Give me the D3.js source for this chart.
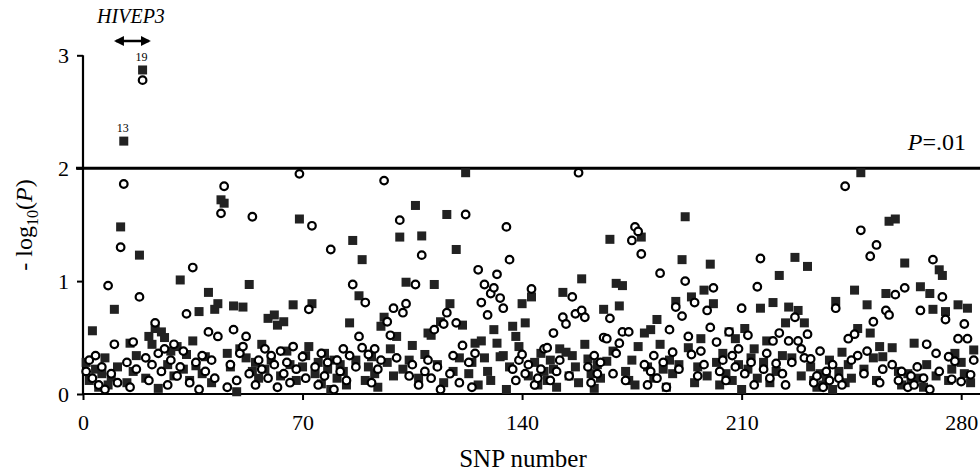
<!DOCTYPE html>
<html>
<head>
<meta charset="utf-8">
<script src="https://cdn.jsdelivr.net/npm/d3@7"></script>
<style>
  body { margin: 0; background: #fff; }
</style>
</head>
<body>
<svg id="chart" width="980" height="474" style="font-family: 'Liberation Serif', 'Times New Roman', serif;"></svg>
<script>
// -log10(P) per SNP, filled squares and open circles (SNP 1..284)
var squareVals = [
  0.28,0.12,0.56,0.22,0.06,0.18,0.32,0.08,0.15,0.75,
  0.24,1.48,2.24,0.10,0.45,0.20,0.34,1.23,2.87,0.14,
  0.51,0.44,0.58,0.05,0.55,0.50,0.26,0.38,0.16,0.42,
  1.01,0.22,0.35,0.12,0.47,0.25,0.73,0.18,0.33,0.90,
  0.10,0.75,0.80,1.72,1.69,0.36,0.24,0.78,0.02,0.40,
  0.77,0.32,0.97,0.20,0.28,0.14,0.44,0.22,0.67,0.30,
  0.70,0.61,0.16,0.64,0.38,0.26,0.79,0.12,1.55,0.24,
  0.34,0.42,0.80,0.18,0.28,0.09,0.36,0.22,0.04,0.30,
  0.14,0.26,0.20,0.08,0.63,1.36,0.30,0.87,1.19,0.12,
  0.24,0.33,0.18,0.06,0.60,0.68,0.28,0.40,0.16,0.51,
  1.39,0.22,0.99,0.30,0.43,1.67,0.14,1.40,0.35,0.54,
  0.52,0.97,0.26,0.64,0.10,1.59,0.80,0.20,1.28,0.32,
  0.61,1.96,0.18,0.28,0.45,0.08,0.47,0.32,0.20,0.12,
  0.57,0.45,0.33,0.34,0.04,0.24,0.60,0.51,0.42,0.80,
  0.63,0.16,0.86,0.28,0.08,0.36,0.20,0.12,0.30,0.22,
  0.06,0.40,0.90,0.37,0.16,0.34,0.24,0.10,1.02,0.44,
  0.31,0.18,0.05,0.26,0.14,0.75,0.29,1.37,0.38,0.98,
  0.78,0.96,0.20,0.12,0.30,0.08,0.42,1.39,0.54,0.24,
  0.57,0.14,0.66,0.44,0.22,0.06,0.30,0.18,0.82,0.26,
  1.19,1.57,0.41,0.86,0.10,0.24,0.49,0.92,0.16,1.15,
  0.80,0.28,0.08,0.36,0.18,0.55,0.12,0.49,0.26,0.04,
  0.58,0.22,0.32,0.40,0.14,0.76,0.28,0.47,0.10,0.81,
  0.20,1.05,0.34,0.63,0.77,0.32,1.21,0.74,0.16,0.63,
  1.13,0.24,0.12,0.06,0.18,0.08,0.14,0.30,0.04,0.82,
  0.20,0.37,0.10,0.26,0.14,0.92,0.58,1.96,0.22,0.79,
  0.54,0.32,0.12,0.42,0.33,0.89,1.53,0.41,1.55,0.20,
  0.08,1.16,0.18,0.10,0.45,0.14,0.95,0.06,0.26,0.89,
  0.75,0.16,1.10,1.05,0.73,0.12,0.22,0.36,0.79,0.28,
  0.18,0.76,0.10,0.39
];
var circleVals = [
  0.20,0.30,0.14,0.34,0.08,0.24,0.04,0.96,0.18,0.44,
  0.10,1.30,1.86,0.28,0.06,0.46,0.22,0.86,2.78,0.32,
  0.12,0.26,0.63,0.36,0.20,0.40,0.08,0.30,0.44,0.16,
  0.24,0.38,0.71,0.10,1.12,0.28,0.04,0.34,0.20,0.55,
  0.30,0.14,0.51,1.60,1.84,0.06,0.26,0.57,0.12,0.36,
  0.42,0.51,0.18,1.57,0.08,0.30,0.22,0.40,0.14,0.34,
  0.26,0.06,0.38,0.18,0.28,0.10,0.42,0.22,1.95,0.33,
  0.14,0.75,1.49,0.24,0.08,0.36,0.16,0.28,1.28,0.04,
  0.30,0.20,0.40,0.12,0.34,0.97,0.24,0.51,0.41,0.81,
  0.35,0.10,0.40,0.22,0.30,1.89,0.64,0.52,0.76,0.32,
  1.54,0.72,0.80,0.16,0.26,0.97,0.08,1.23,0.20,0.30,
  0.14,0.57,0.24,0.04,0.62,0.72,0.18,0.34,0.63,0.10,
  0.43,1.59,0.28,0.06,0.36,1.10,0.81,0.97,0.70,0.89,
  0.94,1.06,0.85,0.76,1.48,1.19,0.22,0.12,0.30,0.35,
  0.18,0.26,0.93,0.08,0.14,0.22,0.40,0.41,0.12,0.54,
  0.20,0.30,0.68,0.62,0.16,0.86,0.71,1.96,0.74,0.68,
  0.24,0.10,0.34,0.18,0.28,0.50,0.49,0.67,0.18,0.36,
  0.45,0.55,0.12,0.55,1.36,1.48,1.44,1.24,0.26,0.08,
  0.20,0.34,0.14,1.07,0.28,0.06,0.57,0.37,0.77,0.22,
  0.69,1.00,0.51,0.35,0.81,0.16,0.38,0.26,0.74,0.59,
  0.94,0.46,0.20,0.30,0.12,0.55,0.34,0.24,0.40,0.76,
  0.18,0.52,0.28,0.08,0.95,1.20,0.22,0.36,0.14,0.47,
  0.27,0.54,0.18,0.08,0.47,0.28,0.68,0.47,0.40,0.32,
  0.53,0.31,0.10,0.16,0.38,0.06,0.20,0.12,0.26,0.76,
  0.14,0.08,1.84,0.49,0.30,0.53,0.34,1.45,0.18,0.38,
  1.22,0.64,1.32,0.10,0.22,0.74,0.70,0.26,0.88,0.12,
  0.20,0.94,0.06,0.16,0.08,0.24,0.74,0.14,0.44,0.04,
  1.19,0.36,0.20,0.86,0.66,0.33,0.13,0.29,0.49,0.11,
  0.62,0.49,0.17,0.30
];
var xTicks = [0, 70, 140, 210, 280];
var yTicks = [0, 1, 2, 3];
var threshold = 2;           // -log10(.01)
var labelled = [13, 19];     // SNPs numbered on the plot

var serif = "'Liberation Serif', 'Times New Roman', serif";
var svg = d3.select("#chart");

var x = d3.scaleLinear().domain([0, 286]).range([83, 980]);
var y = d3.scaleLinear().domain([0, 3]).range([394, 55.3]);

// axes
var xAxis = svg.append("g")
    .attr("transform", "translate(0,394)")
    .call(d3.axisBottom(x).tickValues(xTicks).tickFormat(d3.format("d"))
      .tickSize(6).tickPadding(14).tickSizeOuter(0));
var yAxis = svg.append("g")
    .attr("transform", "translate(83,0)")
    .call(d3.axisLeft(y).tickValues(yTicks).tickFormat(d3.format("d"))
      .tickSize(6).tickPadding(8).tickSizeOuter(0));

[xAxis, yAxis].forEach(function(a) {
  a.attr("font-family", null).attr("font-size", null);
  a.select(".domain").attr("stroke", "#000").attr("stroke-width", 2.2);
  a.selectAll(".tick line").attr("stroke", "#000").attr("stroke-width", 2);
  a.selectAll(".tick text").style("font-size", "22px")
    .style("font-family", serif).attr("fill", "#000");
});
yAxis.select(".domain").attr("d", "M0," + y(3) + "V394");
xAxis.select(".domain").attr("d", "M" + x(0) + ",0H980");

// P = .01 line
svg.append("line")
    .attr("x1", 76).attr("x2", 980)
    .attr("y1", y(threshold)).attr("y2", y(threshold))
    .attr("stroke", "#000").attr("stroke-width", 3);

var pLab = svg.append("text")
    .attr("x", 966).attr("y", y(threshold) - 18)
    .attr("text-anchor", "end")
    .style("font-family", serif).style("font-size", "24px");
pLab.append("tspan").attr("font-style", "italic").text("P");
pLab.append("tspan").text("=.01");

// points
var sq = 9;
svg.append("g").selectAll("rect")
    .data(squareVals)
    .enter().append("rect")
      .attr("x", function(d, i) { return x(i + 1) - sq / 2; })
      .attr("y", function(d) { return y(d) - sq / 2; })
      .attr("width", sq).attr("height", sq)
      .attr("fill", "#222");

svg.append("g").selectAll("circle")
    .data(circleVals)
    .enter().append("circle")
      .attr("cx", function(d, i) { return x(i + 1); })
      .attr("cy", function(d) { return y(d); })
      .attr("r", 3.8)
      .attr("fill", "#fff")
      .attr("stroke", "#000")
      .attr("stroke-width", 2.2);

// numbers above the two top SNPs
svg.append("g").selectAll("text")
    .data(labelled)
    .enter().append("text")
      .attr("x", function(d) { return x(d) - 1; })
      .attr("y", function(d) { return y(squareVals[d - 1]) - 9; })
      .attr("text-anchor", "middle")
      .style("font-family", serif).style("font-size", "12px")
      .text(function(d) { return d; });

// HIVEP3 gene label and arrow
svg.append("text")
    .attr("x", 131).attr("y", 23)
    .attr("text-anchor", "middle")
    .style("font-family", serif).style("font-size", "20px").style("font-style", "italic")
    .text("HIVEP3");

var defs = svg.append("defs");
defs.append("marker").attr("id", "ah")
    .attr("viewBox", "0 0 10 10").attr("refX", 8).attr("refY", 5)
    .attr("markerWidth", 4).attr("markerHeight", 4)
    .attr("orient", "auto-start-reverse")
  .append("path").attr("d", "M0,0L10,5L0,10z").attr("fill", "#000");

svg.append("line")
    .attr("x1", x(10.5)).attr("x2", x(21))
    .attr("y1", 41).attr("y2", 41)
    .attr("stroke", "#000").attr("stroke-width", 2.5)
    .attr("marker-start", "url(#ah)").attr("marker-end", "url(#ah)");

// axis titles
svg.append("text")
    .attr("x", 523).attr("y", 467)
    .attr("text-anchor", "middle")
    .style("font-family", serif).style("font-size", "25px")
    .text("SNP number");

var yt = svg.append("text")
    .attr("transform", "translate(32,225) rotate(-90)")
    .attr("text-anchor", "middle")
    .style("font-family", serif).style("font-size", "24px");
yt.append("tspan").text("- log");
yt.append("tspan").style("font-size", "16px").attr("dy", 6).text("10");
yt.append("tspan").attr("dy", -6).text("(");
yt.append("tspan").attr("font-style", "italic").text("P");
yt.append("tspan").text(")");
</script>
</body>
</html>
